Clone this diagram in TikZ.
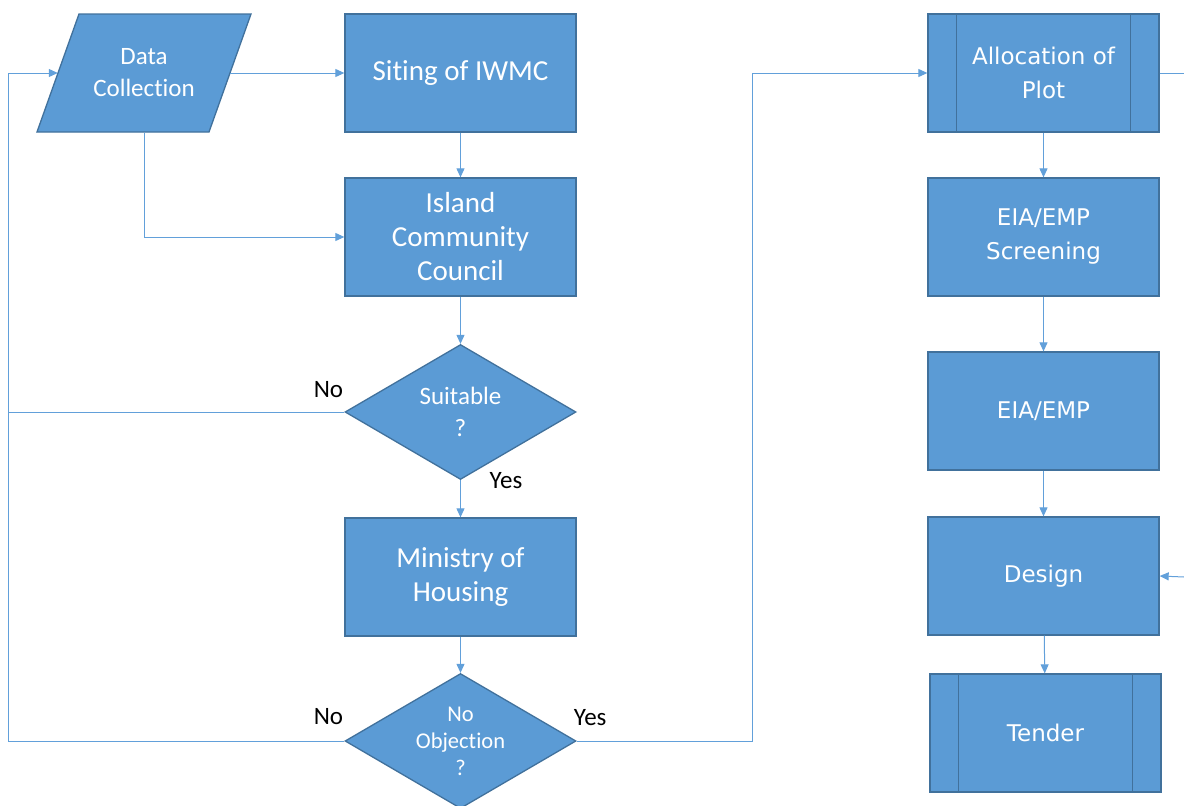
\documentclass[tikz,border=0pt]{standalone}
\usepackage{fontspec}
\setmainfont[Ligatures={NoCommon}]{Carlito}
\newfontfamily\widefont{DejaVu Sans}
\usetikzlibrary{shapes.geometric,arrows.meta}
\definecolor{boxblue}{RGB}{91,155,213}
\definecolor{edgeblue}{RGB}{65,113,156}
\definecolor{lineblue}{RGB}{98,160,218}

\begin{document}
\begin{tikzpicture}[x=1pt,y=-1pt,>={Triangle[length=9pt,width=8pt]},node distance=164pt,
      box/.style={rectangle,draw=edgeblue,line width=1.3pt,fill=boxblue,text=white,
        minimum width=231pt,minimum height=118pt,inner sep=0pt,align=center,
        font=\fontsize{29}{34}\selectfont},
      rbox/.style={box,font=\widefont\fontsize{23}{34}\selectfont},
      decide/.style={diamond,draw=edgeblue,line width=1.3pt,fill=boxblue,text=white,
        minimum width=231pt,minimum height=135pt,aspect=1.7,inner sep=0pt,align=center},
      inout/.style={rectangle,minimum width=216pt,minimum height=120pt,inner sep=0pt,
        text=white,align=center,font=\fontsize{25}{32}\selectfont,
        path picture={\draw[fill=boxblue,draw=edgeblue,line width=1.3pt]
          ([shift={(43pt,-1pt)}]path picture bounding box.north west)
          -- ([shift={(-1pt,-1pt)}]path picture bounding box.north east)
          -- ([shift={(-43pt,1pt)}]path picture bounding box.south east)
          -- ([shift={(1pt,1pt)}]path picture bounding box.south west) -- cycle;}},
      link/.style={lineblue,line width=1pt},
      lbl/.style={font=\fontsize{25}{30}\selectfont,inner sep=1pt}]

    \useasboundingbox (0,0) rectangle (1184,806);

    \node[inout] (data) at (144,73) {Data\\Collection};
    \node[box] (siting) at (460.5,73) {Siting of IWMC};
    \node[box] (island) [below of=siting] {Island\\Community\\Council};
    \node[decide,font=\fontsize{25}{32}\selectfont] (suitable) [below of=island,node distance=175pt] {Suitable\\?};
    \node[box] (ministry) [below of=suitable,node distance=165pt] {Ministry of\\Housing};
    \node[decide,font=\fontsize{22.5}{27}\selectfont] (noobj) [below of=ministry] {No\\Objection\\?};

    \node[rbox] (alloc) at (1043.5,73) {Allocation of\\Plot};
    \node[rbox] (screen) [below of=alloc] {EIA/EMP\\Screening};
    \node[rbox] (eia) [below of=screen,node distance=174pt] {EIA/EMP};
    \node[rbox] (design) [below of=eia,node distance=165pt] {Design};
    \node[rbox] (tender) [below of=design,node distance=157pt,xshift=2pt] {Tender};
    \foreach \n in {alloc,tender}
      \draw[edgeblue,line width=1.3pt] ([xshift=29pt]\n.north west) -- ([xshift=29pt]\n.south west)
        ([xshift=-29pt]\n.north east) -- ([xshift=-29pt]\n.south east);

    \coordinate (back) at (8,73);
    \coordinate (up) at (752,73);
    \coordinate (offA) at (1184,73);
    \coordinate (offD) at (1184,577);

    \draw[link,->] ([xshift=-22pt]data.east) -- (siting);
    \draw[link,->] (data.south) |- (island.west);
    \draw[link,->] (siting) -- (island);
    \draw[link,->] (island) -- (suitable);
    \draw[link,->] (suitable) -- (ministry);
    \draw[link,->] (ministry) -- (noobj);
    \draw[link,->] (suitable.west) -| (back) -- ([xshift=22pt]data.west);
    \draw[link] (noobj.west) -| (back);
    \draw[link,->] (noobj.east) -| (up) -- (alloc.west);
    \draw[link] (alloc.east) -- (offA);
    \draw[link,->] (alloc) -- (screen);
    \draw[link,->] (screen) -- (eia);
    \draw[link,->] (eia) -- (design);
    \draw[link,->] (design) -- (tender);
    \draw[link,->] (offD) -- (design.east);

    \node[lbl,anchor=east] (no1) at ([yshift=22pt]suitable.west) {No};
    \node[lbl,anchor=west] (yes1) at ([xshift=28pt]suitable.south) {Yes};
    \node[lbl,anchor=east] (no2) at ([yshift=24pt]noobj.west) {No};
    \node[lbl,anchor=west] (yes2) at ([xshift=-4pt,yshift=23pt]noobj.east) {Yes};
\end{tikzpicture}
\end{document}
